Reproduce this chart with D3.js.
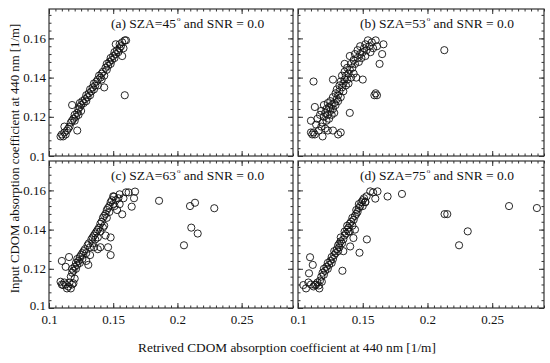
<!DOCTYPE html>
<html>
<head>
<meta charset="utf-8">
<script src="https://cdn.jsdelivr.net/npm/d3@7"></script>
<style>
  body { margin: 0; background: #fff; }
  text { font-family: "Liberation Serif", "Times New Roman", serif; fill: #111; }
</style>
</head>
<body>
<div class="canvas"></div>
<script>
// panel labels and solar zenith angles
const panelLetters = ["a", "b", "c", "d"];
const szaValues = [45, 53, 63, 75];
const snrValue = "0.0";

const xTicks = [0.1, 0.15, 0.2, 0.25];
const yTicks = [0.1, 0.12, 0.14, 0.16];

// [retrieved, input] CDOM absorption pairs
const pointsA = [
  [0.109,0.110],[0.110,0.111],[0.111,0.110],[0.112,0.112],[0.112,0.115],[0.113,0.111],
  [0.114,0.113],[0.115,0.114],[0.116,0.115],[0.117,0.117],[0.118,0.118],[0.118,0.126],
  [0.119,0.119],[0.120,0.118],[0.120,0.121],[0.121,0.120],[0.122,0.113],[0.122,0.122],
  [0.123,0.124],[0.123,0.121],[0.124,0.125],[0.124,0.127],[0.125,0.123],[0.125,0.126],
  [0.126,0.128],[0.127,0.127],[0.128,0.129],[0.129,0.128],[0.129,0.131],[0.130,0.130],
  [0.131,0.132],[0.132,0.131],[0.132,0.134],[0.133,0.133],[0.134,0.135],[0.135,0.134],
  [0.135,0.137],[0.136,0.136],[0.137,0.138],[0.138,0.139],[0.138,0.136],[0.139,0.141],
  [0.140,0.140],[0.141,0.142],[0.141,0.139],[0.142,0.143],[0.143,0.141],[0.143,0.135],
  [0.144,0.145],[0.145,0.144],[0.145,0.147],[0.146,0.146],[0.147,0.148],[0.148,0.147],
  [0.148,0.150],[0.149,0.149],[0.150,0.151],[0.151,0.150],[0.151,0.153],[0.152,0.152],
  [0.152,0.157],[0.153,0.154],[0.154,0.153],[0.155,0.155],[0.155,0.157],[0.156,0.156],
  [0.157,0.151],[0.157,0.158],[0.158,0.155],[0.159,0.159],[0.160,0.159],[0.159,0.131]
];

const pointsB = [
  [0.110,0.112],[0.111,0.111],[0.112,0.112],[0.113,0.111],[0.119,0.110],[0.131,0.111],
  [0.133,0.112],[0.110,0.118],[0.113,0.125],[0.112,0.138],[0.114,0.116],[0.115,0.119],
  [0.116,0.113],[0.117,0.121],[0.118,0.115],[0.118,0.123],[0.119,0.117],[0.120,0.120],
  [0.120,0.126],[0.121,0.114],[0.121,0.122],[0.122,0.118],[0.122,0.124],[0.123,0.127],
  [0.123,0.121],[0.124,0.119],[0.124,0.125],[0.125,0.123],[0.125,0.128],[0.126,0.121],
  [0.126,0.126],[0.127,0.130],[0.127,0.124],[0.127,0.139],[0.128,0.127],[0.128,0.122],
  [0.129,0.132],[0.129,0.126],[0.130,0.129],[0.130,0.134],[0.131,0.128],[0.131,0.131],
  [0.132,0.136],[0.132,0.133],[0.133,0.130],[0.133,0.138],[0.134,0.135],[0.134,0.141],
  [0.135,0.133],[0.135,0.137],[0.136,0.139],[0.136,0.143],[0.137,0.136],[0.137,0.141],
  [0.138,0.145],[0.138,0.139],[0.139,0.142],[0.139,0.137],[0.140,0.144],[0.140,0.151],
  [0.140,0.122],[0.141,0.147],[0.141,0.140],[0.142,0.145],[0.143,0.149],[0.143,0.142],
  [0.144,0.147],[0.144,0.152],[0.145,0.140],[0.146,0.150],[0.146,0.154],[0.147,0.148],
  [0.148,0.152],[0.148,0.156],[0.149,0.150],[0.150,0.153],[0.150,0.139],[0.151,0.155],
  [0.152,0.157],[0.152,0.151],[0.153,0.154],[0.154,0.159],[0.155,0.156],[0.156,0.153],
  [0.157,0.158],[0.158,0.155],[0.159,0.131],[0.160,0.132],[0.161,0.131],[0.160,0.159],
  [0.161,0.156],[0.163,0.147],[0.165,0.152],[0.166,0.157],[0.213,0.154],[0.136,0.147],
  [0.123,0.113],[0.127,0.113]
];

const pointsC = [
  [0.109,0.1134],[0.110,0.112],[0.111,0.1117],[0.112,0.113],[0.114,0.110],[0.115,0.111],
  [0.117,0.110],[0.118,0.112],[0.119,0.1126],[0.120,0.115],[0.116,0.113],[0.113,0.112],
  [0.110,0.124],[0.1156,0.126],[0.113,0.121],[0.1306,0.122],
  [0.117,0.116],[0.118,0.118],[0.118,0.120],[0.119,0.119],[0.120,0.121],[0.121,0.123],
  [0.121,0.120],[0.122,0.122],[0.122,0.125],[0.123,0.124],[0.124,0.126],[0.124,0.123],
  [0.125,0.127],[0.126,0.128],[0.126,0.125],[0.127,0.129],[0.128,0.130],[0.129,0.128],
  [0.130,0.132],[0.131,0.133],[0.132,0.131],[0.133,0.135],[0.134,0.136],[0.134,0.133],
  [0.135,0.137],[0.136,0.138],[0.136,0.135],[0.137,0.139],[0.138,0.140],[0.138,0.136],
  [0.139,0.141],[0.140,0.143],[0.140,0.139],[0.141,0.144],[0.142,0.146],[0.142,0.141],
  [0.143,0.147],[0.144,0.148],[0.145,0.150],[0.145,0.146],[0.146,0.151],[0.147,0.152],
  [0.147,0.149],[0.148,0.154],[0.149,0.155],[0.150,0.153],[0.150,0.157],[0.151,0.152],
  [0.152,0.155],[0.153,0.150],[0.154,0.156],[0.155,0.153],
  [0.140,0.131],[0.138,0.130],[0.144,0.137],[0.146,0.131],[0.148,0.127],[0.148,0.136],
  [0.143,0.142],[0.135,0.131],[0.132,0.127],[0.129,0.124],
  [0.157,0.1478],[0.1644,0.1517],[0.1662,0.156],[0.167,0.1594],[0.160,0.159],[0.162,0.159],
  [0.1506,0.1568],[0.158,0.156],[0.155,0.158],
  [0.1857,0.1547],[0.2098,0.152],[0.2137,0.1537],[0.2287,0.1509],[0.2108,0.141],
  [0.2158,0.138],[0.2051,0.132]
];

const pointsD = [
  [0.1041,0.1117],[0.1062,0.110],[0.1132,0.1117],[0.1165,0.110],[0.1184,0.1134],[0.108,0.113],
  [0.110,0.112],[0.112,0.111],[0.114,0.112],[0.115,0.113],[0.116,0.1115],[0.117,0.114],
  [0.1093,0.1259],[0.1114,0.122],[0.1085,0.1177],[0.1343,0.119],
  [0.118,0.116],[0.119,0.118],[0.120,0.117],[0.120,0.120],[0.121,0.119],[0.122,0.121],
  [0.123,0.120],[0.123,0.123],[0.124,0.122],[0.125,0.124],[0.126,0.126],[0.126,0.123],
  [0.127,0.125],[0.128,0.127],[0.128,0.129],[0.129,0.128],[0.130,0.130],[0.131,0.132],
  [0.131,0.129],[0.132,0.131],[0.133,0.134],[0.133,0.136],[0.134,0.133],[0.135,0.135],
  [0.136,0.137],[0.136,0.139],[0.137,0.138],[0.138,0.140],[0.138,0.142],[0.139,0.141],
  [0.140,0.143],[0.140,0.139],[0.141,0.144],[0.142,0.142],[0.142,0.146],[0.143,0.145],
  [0.144,0.147],[0.145,0.148],[0.145,0.150],[0.146,0.149],[0.147,0.151],[0.147,0.153],
  [0.148,0.152],[0.149,0.154],[0.150,0.155],[0.150,0.152],[0.151,0.156],[0.152,0.154],
  [0.153,0.157],
  [0.139,0.139],[0.1403,0.1314],[0.1428,0.1357],[0.1532,0.135],[0.1475,0.1282],[0.132,0.133],
  [0.135,0.129],[0.144,0.140],
  [0.1558,0.1595],[0.1614,0.1595],[0.1597,0.1558],[0.152,0.1541],[0.158,0.159],
  [0.1692,0.1569],[0.1803,0.1582],[0.2132,0.1479],[0.2153,0.1479],[0.2311,0.1391],
  [0.2244,0.1320],[0.2630,0.1520],[0.2845,0.1510]
];

const panelPoints = [pointsA, pointsB, pointsC, pointsD];

const xLabel = "Retrived CDOM absorption coefficient at 440 nm [1/m]";
const yLabel = "Input CDOM absorption coefficient at 440 nm [1/m]";

const svgWidth = 550;
const svgHeight = 363;
const cols = [[49, 293], [298, 544]];
const rows = [[9, 156], [161, 308]];

const svg = d3
  .select(".canvas")
  .append("svg")
  .attr("width", svgWidth)
  .attr("height", svgHeight);

const fmt = d3.format("~g");
const xMinor = d3.range(0.1, 0.2901, 0.005);
const yMinor = d3.range(0.1, 0.1751, 0.004);

panelPoints.forEach((pts, i) => {
  const col = i % 2;
  const row = Math.floor(i / 2);
  const [x0, x1] = cols[col];
  const [y0, y1] = rows[row];
  const w = x1 - x0;
  const h = y1 - y0;

  const x = d3.scaleLinear().domain([0.1, 0.29]).range([0, w]);
  const y = d3.scaleLinear().domain([0.1, 0.175]).range([h, 0]);

  const g = svg.append("g").attr("transform", `translate(${x0}, ${y0})`);

  // minor ticks on all four sides
  const minor = [
    [d3.axisBottom(x).tickValues(xMinor), `translate(0, ${h})`],
    [d3.axisTop(x).tickValues(xMinor), "translate(0, 0)"],
    [d3.axisLeft(y).tickValues(yMinor), "translate(0, 0)"],
    [d3.axisRight(y).tickValues(yMinor), `translate(${w}, 0)`]
  ];
  minor.forEach(([ax, tr]) => {
    g.append("g")
      .attr("transform", tr)
      .call(ax.tickSize(-2.5).tickFormat(""))
      .call(s => s.select(".domain").remove())
      .call(s => s.selectAll("line").attr("stroke", "#333"));
  });

  // major ticks
  const xAxis = d3.axisBottom(x).tickValues(xTicks).tickSize(-5).tickPadding(7)
    .tickFormat(row === 1 ? fmt : "");
  const xTop = d3.axisTop(x).tickValues(xTicks).tickSize(-5).tickFormat("");
  const yAxis = d3.axisLeft(y).tickValues(yTicks).tickSize(-5).tickPadding(3)
    .tickFormat(col === 0 ? fmt : "");
  const yRight = d3.axisRight(y).tickValues(yTicks).tickSize(-5).tickFormat("");

  [[xAxis, `translate(0, ${h})`], [xTop, "translate(0, 0)"],
   [yAxis, "translate(0, 0)"], [yRight, `translate(${w}, 0)`]].forEach(([ax, tr]) => {
    g.append("g")
      .attr("class", "axis")
      .attr("transform", tr)
      .call(ax)
      .call(s => s.select(".domain").remove())
      .call(s => s.selectAll("line").attr("stroke", "#333"))
      .call(s => s.selectAll("text")
        .attr("font-size", 13)
        .style("font-family", "Liberation Serif")
        .attr("fill", "#111"));
  });

  // lift the lowest y label a little so it clears the x label below it
  if (col === 0 && row === 1) {
    g.selectAll(".axis text").filter(d => d === 0.1 && yTicks.includes(d))
      .filter(function () { return this.getAttribute("x") !== null && +this.getAttribute("x") < 0; })
      .attr("dy", "0.1em");
  }

  g.append("rect")
    .attr("width", w)
    .attr("height", h)
    .attr("fill", "none")
    .attr("stroke", "#333")
    .attr("stroke-width", 1.2);

  g.selectAll("circle")
    .data(pts)
    .enter()
    .append("circle")
    .attr("cx", d => x(d[0]))
    .attr("cy", d => y(d[1]))
    .attr("r", 3.6)
    .attr("fill", "none")
    .attr("stroke", "#111")
    .attr("stroke-width", 0.9);

  const title = g.append("text")
    .attr("x", 62)
    .attr("y", 18.5)
    .attr("font-size", 13.5);
  title.append("tspan").text(`(${panelLetters[i]}) SZA=${szaValues[i]}`);
  title.append("tspan").attr("dy", -7).attr("dx", 1).attr("font-size", 7).text("o");
  title.append("tspan").attr("dy", 7).text(` and SNR = ${snrValue}`);
});

svg.append("text")
  .attr("x", 287)
  .attr("y", 352)
  .attr("text-anchor", "middle")
  .attr("font-size", 13.3)
  .text(xLabel);

svg.append("text")
  .attr("transform", `translate(19, ${(rows[0][0] + rows[1][1]) / 2}) rotate(-90)`)
  .attr("text-anchor", "middle")
  .attr("font-size", 12.8)
  .text(yLabel);
</script>
</body>
</html>
